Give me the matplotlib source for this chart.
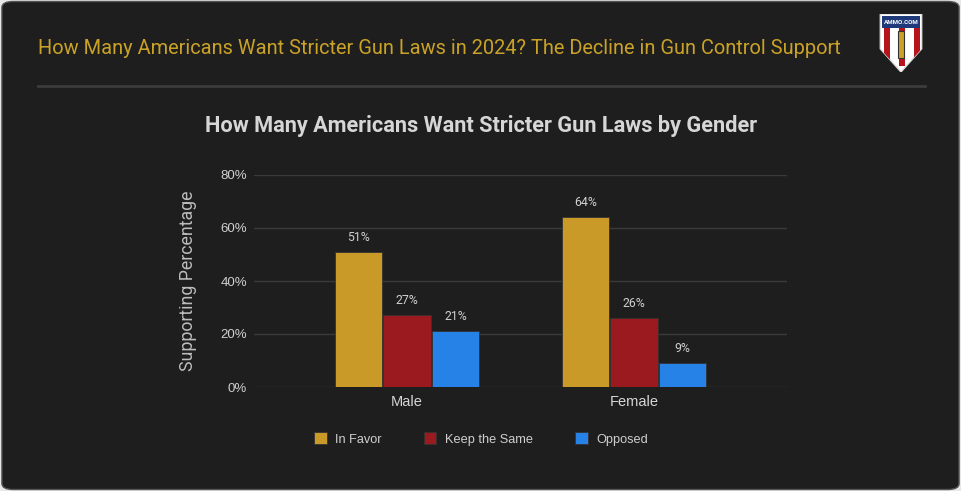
import numpy as np
import matplotlib.pyplot as plt
from matplotlib.patches import FancyBboxPatch, Polygon, Rectangle

plt.rcParams['font.family'] = ['Roboto', 'DejaVu Sans']

# data
genders = ['Male', 'Female']
series = ['In Favor', 'Keep the Same', 'Opposed']
in_favor = [51, 64]
keep_same = [27, 26]
opposed = [21, 9]
colors = ['#c99a28', '#9b1a1f', '#2782e8']
yticks = [0, 20, 40, 60, 80]

bg = '#1e1e1e'
fig = plt.figure(figsize=(9.61, 4.91), dpi=100)
fig.patch.set_facecolor('#e8e8e8')

# dark rounded card
card = FancyBboxPatch((0.002, 0.003), 0.996, 0.994,
                      boxstyle='round,pad=0,rounding_size=0.012',
                      transform=fig.transFigure, facecolor=bg,
                      edgecolor='#555555', lw=1, zorder=-5)
fig.patches.append(card)

fig.text(38 / 961, 1 - 49 / 491,
         'How Many Americans Want Stricter Gun Laws in 2024? The Decline in Gun Control Support',
         color='#c9a227', fontsize=14.4, va='center', ha='left')
fig.add_artist(plt.Line2D([38 / 961, 925 / 961], [1 - 86 / 491] * 2,
                          transform=fig.transFigure, color='#3c3c3c', lw=2))

# simple shield logo
lg = fig.add_axes([878 / 961, 1 - 72 / 491, 46 / 961, 58 / 491])
lg.set_xlim(0, 1)
lg.set_ylim(0, 1)
lg.axis('off')
shield = [(0.05, 1), (0.95, 1), (0.95, 0.4), (0.5, 0.0), (0.05, 0.4)]
lg.add_patch(Polygon(shield, closed=True, facecolor='white', edgecolor='#dddddd', lw=1))
for i, xs in enumerate(np.linspace(0.12, 0.78, 5)):
    if i % 2 == 0:
        stripe = Rectangle((xs, 0.1), 0.13, 0.66, facecolor='#b5141c', edgecolor='none')
        stripe.set_clip_path(Polygon(shield, closed=True, transform=lg.transData))
        lg.add_patch(stripe)
lg.add_patch(Rectangle((0.08, 0.76), 0.84, 0.2, facecolor='#1f3a7a', edgecolor='none'))
lg.text(0.5, 0.86, 'AMMO.COM', color='white', fontsize=4.5, ha='center', va='center',
        fontweight='bold')
lg.add_patch(Rectangle((0.44, 0.25), 0.12, 0.45, facecolor='#c9a227', edgecolor='#333333', lw=0.8))

fig.text(481 / 961, 1 - 126 / 491, 'How Many Americans Want Stricter Gun Laws by Gender',
         color='#d6d6d6', fontsize=15.7, fontweight='bold', ha='center', va='center')

ax = fig.add_axes([254 / 961, 1 - 387 / 491, 533 / 961, 212 / 491])
ax.set_facecolor(bg)
x = np.arange(len(genders))
w = 0.208
for i, (vals, name) in enumerate(zip([in_favor, keep_same, opposed], series)):
    pos = x + (i - 1) * (w + 0.006)
    bars = ax.bar(pos, vals, width=w, color=colors[i], label=name,
                  edgecolor='#333333', linewidth=0.6, zorder=3)
    for b, v in zip(bars, vals):
        ax.text(b.get_x() + b.get_width() / 2, v + 3, f'{v}%',
                ha='center', va='bottom', color='#d0d0d0', fontsize=8.8)

ax.set_xlim(-0.674, 1.674)
ax.set_ylim(0, 80)
ax.set_yticks(yticks)
ax.set_yticklabels([f'{t}%' for t in yticks], family=['Liberation Sans', 'DejaVu Sans'])
ax.set_xticks(x)
ax.set_xticklabels(genders, family=['Liberation Sans', 'DejaVu Sans'])
ax.grid(axis='y', color='#3a3a3a', lw=1, zorder=0)
for s in ax.spines.values():
    s.set_visible(False)
ax.tick_params(axis='y', length=0, colors='#cfcfcf', labelsize=9.5, pad=5)
ax.tick_params(axis='x', length=0, colors='#d6d6d6', labelsize=10.5, pad=6)
ax.set_ylabel('Supporting Percentage', color='#bdbdbd', fontsize=12.8, labelpad=17)

leg = fig.legend(loc='center', bbox_to_anchor=(481 / 961, 1 - 439 / 491), ncol=3,
                 frameon=False, labelcolor='#cfcfcf',
                 prop={'family': ['Liberation Sans', 'DejaVu Sans'], 'size': 9.2},
                 handlelength=1.0, handleheight=1.0, columnspacing=3.25, handletextpad=0.7)

fig.savefig('out.png', dpi=100, facecolor=fig.get_facecolor())
